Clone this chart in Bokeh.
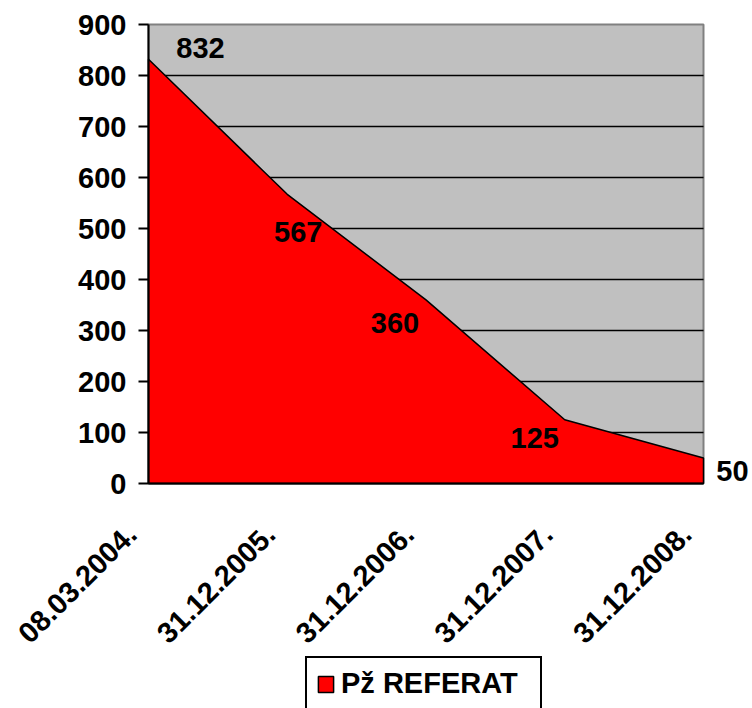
import math
from bokeh.plotting import figure
from bokeh.models import (ColumnDataSource, LabelSet, Legend, LegendItem,
                          FixedTicker, Range1d, LinearAxis)
from bokeh.core.properties import value
from bokeh.embed import file_html
from bokeh.resources import INLINE

dates = ["08.03.2004.", "31.12.2005.", "31.12.2006.", "31.12.2007.", "31.12.2008."]
values = [832, 567, 360, 125, 50]
series_name = "Pž REFERAT"
y_ticks = [0, 100, 200, 300, 400, 500, 600, 700, 800, 900]

# data label offsets in screen pixels (styling)
label_dx = [52, 11, -31, -30, 29]
label_dy = [11, -38, -23, -18, -13]

FONT = "Liberation Sans"
FS = "29px"

xs = list(range(len(dates)))
x_last = xs[-1]
y_top = y_ticks[-1]

src = ColumnDataSource(dict(x=xs, y=values,
                            txt=[str(v) for v in values],
                            dx=label_dx, dy=label_dy))

area_x = xs + [xs[-1], xs[0]]
area_y = values + [0, 0]

# ---- layout (pixels) ----
W, H = 751, 708
PA_LEFT, PA_RIGHT, PA_TOP, PA_BOTTOM = 148, 703, 24, 483   # plot area
kx = (PA_RIGHT - PA_LEFT) / x_last          # px per category step
ky = (PA_BOTTOM - PA_TOP) / y_top           # px per unit
LAB_SHIFT = 17 / kx                          # tick labels sit a bit left of ticks

x0 = -PA_LEFT / kx
x1 = (W - PA_LEFT) / kx
y0 = -(H - PA_BOTTOM) / ky
y1 = y_top + PA_TOP / ky

p = figure(width=W, height=H, output_backend="svg", toolbar_location=None,
           x_range=Range1d(x0, x1), y_range=Range1d(y0, y1),
           x_axis_location=None, y_axis_location=None,
           min_border=0)
p.extra_x_ranges = {"lab": Range1d(x0 + LAB_SHIFT, x1 + LAB_SHIFT)}

p.background_fill_color = "white"
p.border_fill_color = "white"
p.outline_line_color = None
p.grid.visible = False

# plot area background
p.quad(left=[0], right=[x_last], bottom=[0], top=[y_top],
       fill_color="#C0C0C0", line_color="#808080", line_width=2)
# horizontal grid lines
inner = y_ticks[1:-1]
p.segment(x0=[0] * len(inner), x1=[x_last] * len(inner),
          y0=inner, y1=inner, line_color="black", line_width=1.5)

area = p.patch(x=area_x, y=area_y, fill_color="#FF0000", line_color="black",
               line_width=1.5)

labels = LabelSet(x="x", y="y", text="txt", source=src, x_offset="dx", y_offset="dy",
                  text_align="center", text_baseline="middle",
                  text_font=value(FONT), text_font_size=value(FS),
                  text_font_style="bold", text_color="black")
p.add_layout(labels)

# y axis
yaxis = LinearAxis(fixed_location=0, bounds=(0, y_top),
                   ticker=FixedTicker(ticks=y_ticks),
                   axis_line_color="black", axis_line_width=2,
                   major_tick_out=10, major_tick_in=0, major_tick_line_width=2,
                   minor_tick_line_color=None, major_label_standoff=12,
                   major_label_text_font=FONT, major_label_text_font_size=FS,
                   major_label_text_font_style="bold",
                   major_label_text_color="black")
p.add_layout(yaxis, "left")

# x axis line (no ticks)
base_axis = LinearAxis(fixed_location=0, bounds=(0, x_last),
                       ticker=FixedTicker(ticks=[]),
                       axis_line_color="black", axis_line_width=2,
                       major_tick_out=0, major_tick_in=0,
                       minor_tick_line_color=None, major_label_standoff=0,
                       major_label_text_font_size="0px")
p.add_layout(base_axis, "below")

# x tick labels (category dates)
xaxis = LinearAxis(x_range_name="lab", fixed_location=0,
                   ticker=FixedTicker(ticks=xs),
                   major_label_overrides={i: d for i, d in enumerate(dates)},
                   axis_line_color=None,
                   major_tick_out=0, major_tick_in=0,
                   minor_tick_line_color=None,
                   major_label_orientation=math.pi / 4,
                   major_label_standoff=46,
                   major_label_text_font=FONT, major_label_text_font_size=FS,
                   major_label_text_font_style="bold",
                   major_label_text_color="black")
p.add_layout(xaxis, "below")

legend = Legend(items=[LegendItem(label=series_name, renderers=[area])],
                location=(305, -3), orientation="horizontal",
                label_text_font=FONT, label_text_font_size=FS,
                label_text_font_style="bold", label_text_color="black",
                border_line_color="black", border_line_width=2.5,
                border_line_alpha=1.0,
                glyph_width=19, glyph_height=20, label_standoff=6,
                label_width=190,
                padding=9, margin=0, spacing=0,
                background_fill_color="white", background_fill_alpha=1)
p.add_layout(legend, "center")

open("out.html", "w").write(file_html(p, INLINE))
